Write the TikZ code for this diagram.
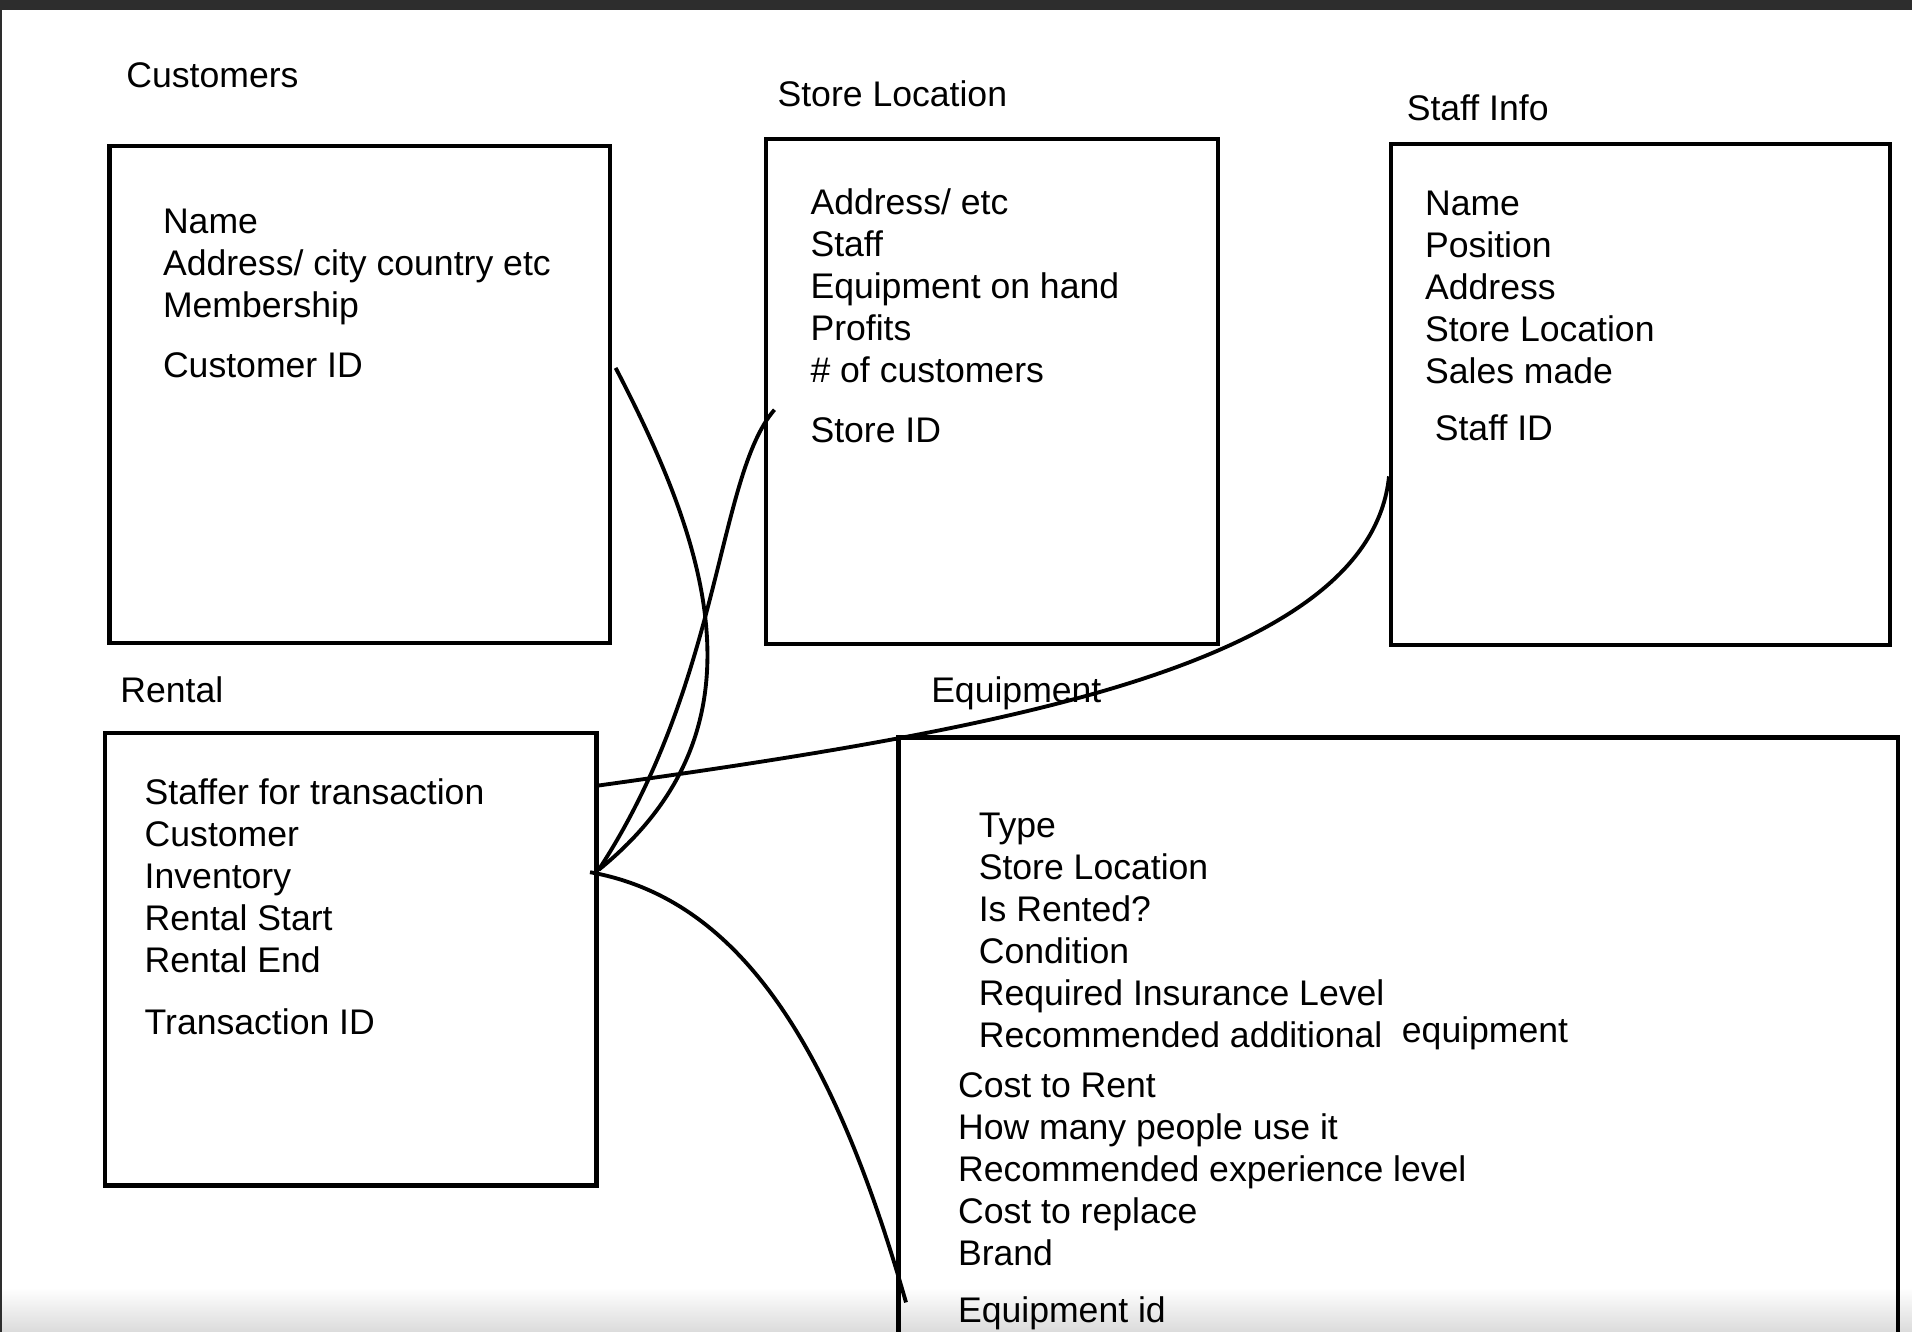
\documentclass[tikz,border=0pt]{standalone}
\usepackage{fontspec}
\setmainfont{Liberation Sans}
\usetikzlibrary{calc}
\definecolor{topbar}{RGB}{45,45,45}
\tikzset{
  entity/.style={draw,line width=1pt,rectangle,inner sep=0pt},
  title/.style={anchor=base west,inner sep=0pt,font=\fontsize{8.3pt}{9.8pt}\selectfont},
  field/.style={anchor=north west,inner sep=0pt,align=left,font=\fontsize{8.3pt}{9.8pt}\selectfont,
    execute at begin node=\setlength{\baselineskip}{9.8pt}},
  link/.style={draw,line width=0.9pt}
}
\begin{document}
\begin{tikzpicture}[x=0.01cm,y=-0.01cm]
  \useasboundingbox (0,0) rectangle (1568,1092);
  \fill[white] (0,0) rectangle (1568,1092);
  \shade[top color=white,bottom color=black!14] (0,1056) rectangle (1568,1092);
  \fill[topbar] (0,0) rectangle (1568,8);
  \fill[topbar] (0,0) rectangle (2,1092);
  \clip (0,0) rectangle (1568,1092);

  % tables
  \node[entity,minimum width=4.10cm,minimum height=4.07cm] (cust) at (295,323.5) {};
  \node[entity,minimum width=3.71cm,minimum height=4.14cm] (store) at (813.5,321) {};
  \node[entity,minimum width=4.09cm,minimum height=4.11cm] (staff) at (1345.5,323.5) {};
  \node[entity,minimum width=4.03cm,minimum height=3.71cm] (rental) at (287.5,786.5) {};
  \node[entity,minimum width=8.19cm,minimum height=5.05cm] (equip) at (1146.5,857.5) {};

  % titles
  \node[title] (custT) at (103,72) {Customers};
  \node[title] (storeT) at (637,87) {Store Location};
  \node[title] (staffT) at (1153,99) {Staff Info};
  \node[title] (rentalT) at (98,576) {Rental};
  \node[title] (equipT) at (763,576) {Equipment};

  % fields
  \node[field] (custF) at (133,171) {Name\\Address/ city country etc\\Membership\\[0.145cm]Customer ID};
  \node[field] (storeF) at (664,154) {Address/ etc\\Staff\\Equipment on hand\\Profits\\\# of customers\\[0.145cm]Store ID};
  \node[field] (staffF) at (1168,156) {Name\\Position\\Address\\Store Location\\Sales made\\[0.125cm]\hspace*{0.08cm}Staff ID};
  \node[field] (rentalF) at (118,638) {Staffer for transaction\\Customer\\Inventory\\Rental Start\\Rental End\\[0.165cm]Transaction ID};
  \node[field] (equipF) at (802,666) {Type\\Store Location\\Is Rented?\\Condition\\Required Insurance Level\\Recommended additional};
  \node[field] (equipX) at (1149,833) {equipment};
  \node[field] (equipG) at (785,879) {Cost to Rent\\How many people use it\\Recommended experience level\\Cost to replace\\Brand\\[0.125cm]Equipment id};

  % links
  \draw[link] ($(cust.north east)!0.447!(cust.south east)+(3,0)$) .. controls +(77,148) and +(141,-114) .. ($(rental.north east)!0.305!(rental.south east)$);
  \draw[link] ($(store.north west)!0.536!(store.south west)+(9,0)$) .. controls +(-47,54) and +(101,-154) .. ($(rental.north east)!0.305!(rental.south east)$);
  \draw[link] ($(staff.north west)!0.662!(staff.south west)$) .. controls +(-16,155) and +(330,-46) .. ($(rental.north east)!0.121!(rental.south east)+(-2,0)$);
  \draw[link] ($(rental.north east)!0.31!(rental.south east)+(-7,0)$) .. controls +(123,22) and +(-60,-210) .. ($(equip.north west)+(8,465)$);
\end{tikzpicture}
\end{document}
